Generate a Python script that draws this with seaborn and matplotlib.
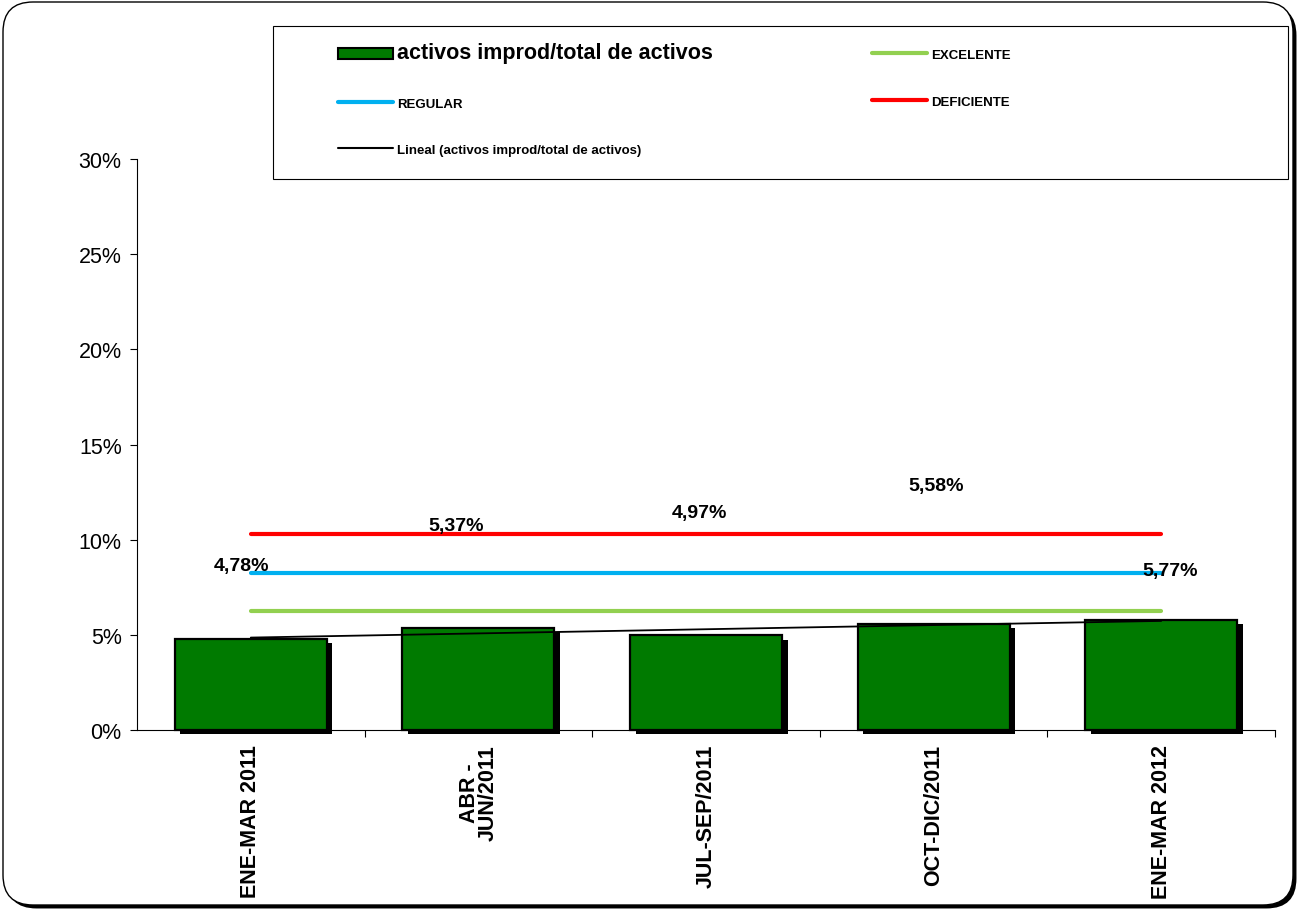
import numpy as np
import pandas as pd
import matplotlib
matplotlib.use("Agg")
import matplotlib.pyplot as plt
import matplotlib.patheffects as pe
from matplotlib.patches import Patch, FancyBboxPatch, Rectangle
from matplotlib.lines import Line2D
from matplotlib.ticker import FuncFormatter, FixedLocator
import seaborn as sns

# data
periodos = ["ENE-MAR 2011", "ABR -\nJUN/2011", "JUL-SEP/2011", "OCT-DIC/2011", "ENE-MAR 2012"]
activos_improd = [4.78, 5.37, 4.97, 5.58, 5.77]
excelente = 6.25
regular = 8.25
deficiente = 10.3

# where Excel left the data labels (offset from bar top, in data units)
label_offsets = [(-0.04, 3.85), (-0.1, 5.37), (-0.03, 6.45), (0.01, 7.26), (0.04, 2.6)]

df = pd.DataFrame({"periodo": periodos, "valor": activos_improd})

sns.set_style("white")
plt.rcParams["font.family"] = ["Liberation Sans", "DejaVu Sans"]
plt.rcParams["text.color"] = "black"
plt.rcParams["xtick.color"] = "black"
plt.rcParams["ytick.color"] = "black"
plt.rcParams["axes.labelcolor"] = "black"

fig = plt.figure(figsize=(13, 9.12), dpi=100)
ax = fig.add_axes([137 / 1300, 1 - 731 / 912, 1138 / 1300, 571 / 912])
ax.patch.set_visible(False)

# rounded outer frame with a shadow
frame = FancyBboxPatch((0.03, 0.06), 12.9, 9.03, boxstyle="round,pad=0,rounding_size=0.3",
                       transform=fig.dpi_scale_trans, facecolor="white", edgecolor="black",
                       linewidth=1.0, zorder=-5,
                       path_effects=[pe.SimplePatchShadow(offset=(2.5, -2.5), shadow_rgbFace="black", alpha=1),
                                     pe.Normal()])
fig.patches.append(frame)

# bars
sns.barplot(data=df, x="periodo", y="valor", color="#007A00", width=0.668,
            edgecolor="black", linewidth=1.6, saturation=1, ax=ax, zorder=2)
for bar in ax.patches:
    bar.set_path_effects([pe.SimplePatchShadow(offset=(4, -3), shadow_rgbFace="black", alpha=1),
                          pe.Normal()])
    bar.set_clip_on(False)

x = np.arange(len(periodos))
xs = [0, len(periodos) - 1]
sns.lineplot(x=xs, y=[excelente] * 2, color="#92D050", linewidth=3, ax=ax, zorder=3)
sns.lineplot(x=xs, y=[regular] * 2, color="#00B0F0", linewidth=3, ax=ax, zorder=3)
sns.lineplot(x=xs, y=[deficiente] * 2, color="#FF0000", linewidth=3, ax=ax, zorder=3)

# linear trend
m, b = np.polyfit(x, activos_improd, 1)
ax.plot(x, m * x + b, color="black", linewidth=1.3, zorder=4)

# data labels
for i, v in enumerate(activos_improd):
    dx, dy = label_offsets[i]
    ax.text(i + dx, v + dy, f"{v:.2f}%".replace(".", ","), ha="center", va="center",
            fontsize=14, fontweight="bold", zorder=5)

# axes
ax.set_xlim(-0.5, len(periodos) - 0.5)
ax.set_ylim(0, 30)
ax.set_yticks(range(0, 31, 5))
ax.yaxis.set_major_formatter(FuncFormatter(lambda v, p: f"{v:.0f}%"))
ax.tick_params(axis="y", labelsize=15.5, length=5, width=0.8, direction="out", left=True, pad=6)
ax.set_xticks(x)
ax.set_xticklabels(periodos, rotation=90, fontsize=15.5, fontweight="bold", linespacing=0.85)
ax.tick_params(axis="x", length=0, pad=10)
ax.xaxis.set_minor_locator(FixedLocator(np.arange(0.5, len(periodos), 1.0)))
ax.tick_params(axis="x", which="minor", length=5, width=0.8, direction="out", bottom=True)
for lab in ax.get_xticklabels():
    lab.set_va("top")
ax.set_xlabel("")
ax.set_ylabel("")
for s in ["top", "right"]:
    ax.spines[s].set_visible(False)
for s in ["left", "bottom"]:
    ax.spines[s].set_color("black")
    ax.spines[s].set_linewidth(0.8)

# legend box
fig.patches.append(Rectangle((273 / 1300, 1 - 180 / 912), 1015 / 1300, 153 / 912,
                             transform=fig.transFigure, facecolor="white",
                             edgecolor="black", linewidth=0.8, zorder=6))
handles = [
    Patch(facecolor="#007A00", edgecolor="black", linewidth=1.5),
    Line2D([], [], color="#00B0F0", linewidth=3),
    Line2D([], [], color="black", linewidth=1.5),
    Line2D([], [], color="#92D050", linewidth=3),
    Line2D([], [], color="#FF0000", linewidth=3),
]
labels = ["activos improd/total de activos", "REGULAR", "Lineal (activos improd/total de activos)",
          "EXCELENTE", "DEFICIENTE"]
leg = fig.legend(handles, labels, ncol=2, loc="upper left",
                 bbox_to_anchor=(338 / 1300, 1 - 43 / 912), frameon=False,
                 fontsize=9.5, handlelength=4.2, handleheight=0.9, handletextpad=0.3,
                 labelspacing=2.55, columnspacing=12.0, borderpad=0, borderaxespad=0,
                 prop={"weight": "bold", "size": 9.5})
leg.set_zorder(7)
leg.get_texts()[0].set_fontsize(15.5)

fig.savefig("out.png", dpi=100)
